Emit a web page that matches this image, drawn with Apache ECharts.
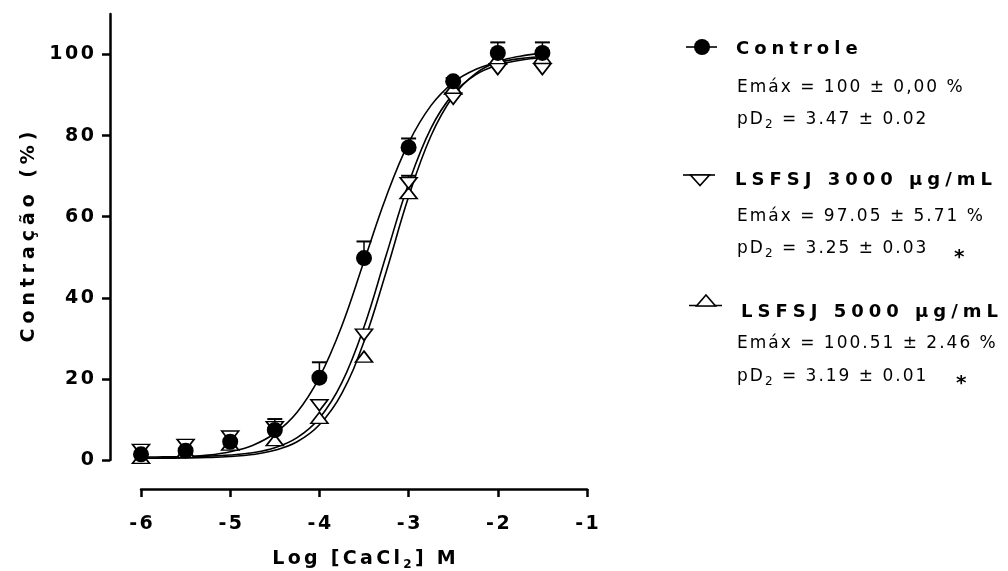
<!DOCTYPE html>
<html>
<head>
<meta charset="utf-8">
<script src="https://cdn.jsdelivr.net/npm/echarts@6/dist/echarts.min.js"></script>
<style>
html,body{margin:0;padding:0;background:#fff;}
#chart{width:1008px;height:571px;}
</style>
</head>
<body>
<div id="chart"></div>
<script>
// ---------- data ----------
const xVals = [-6, -5.5, -5, -4.5, -4, -3.5, -3, -2.5, -2, -1.5];
const ctrl = [1.4, 2.3, 4.5, 7.4, 20.3, 49.8, 77.1, 93.4, 100.4, 100.4];
const ctrlErr = [0, 0, 0, 2.7, 3.8, 4.1, 2.2, 0.8, 2.6, 2.6];
const lsf3000 = [2.5, 3.75, 5.8, 8.1, 13.5, 30.9, 68.3, 89.1, 96.4, 96.4];
const lsf3000Err = [0, 0, 0, 0, 0, 0, 1.8, 0, 0, 0];
const lsf5000 = [0.5, 2.0, 3.8, 4.9, 10.4, 25.5, 65.8, 91.6, 99.0, 99.2];

const xCurve = [-6, -5.75, -5.5, -5.25, -5, -4.75, -4.5, -4.25, -4, -3.75, -3.5, -3.25, -3, -2.75, -2.5, -2.25, -2, -1.75, -1.5];
const ctrlCurve = [0.4, 0.55, 0.8, 1.2, 2.05, 3.6, 6.6, 11.8, 20.4, 33.0, 49.0, 65.0, 78.2, 87.4, 93.1, 96.3, 98.05, 99.0, 99.5];
const curve3000 = [0.73, 0.76, 0.82, 0.95, 1.23, 1.8, 3.0, 5.5, 10.3, 19.0, 32.8, 50.6, 68.2, 81.8, 90.3, 95.0, 97.4, 98.6, 99.2];
const curve5000 = [0.42, 0.45, 0.5, 0.61, 0.85, 1.35, 2.4, 4.5, 8.7, 16.4, 29.2, 46.5, 64.9, 79.9, 89.7, 95.3, 98.2, 99.6, 100.3];

const yTicks = [0, 20, 40, 60, 80, 100];
const xTitle = ['Log [CaCl', '2', '] M'];
const yTitle = 'Contração (%)';
const legendNames = ['Controle', 'LSFSJ 3000 µg/mL', 'LSFSJ 5000 µg/mL'];
const legendEmax = ['Emáx = 100 ± 0,00 %', 'Emáx = 97.05 ± 5.71 %', 'Emáx = 100.51 ± 2.46 %'];
const legendPd2 = [' = 3.47 ± 0.02', ' = 3.25 ± 0.03', ' = 3.19 ± 0.01'];
const legendSig = ['', '*', '*'];

// ---------- helpers ----------
const FONT = 'DejaVu Sans, Liberation Sans, sans-serif';
function sp(str, key, endPad) {
  const chars = Array.from(str);
  return chars.map((c, i) => '{' + key + ((i === chars.length - 1 && !endPad) ? 'E' : '') + '|' + c + '}').join('');
}
function richPair(key, size, weight, spacing, lh) {
  const o = {};
  o[key] = {fontSize: size, fontWeight: weight, fontFamily: FONT, color: '#000', padding: [0, spacing, 0, 0], lineHeight: lh};
  o[key + 'E'] = {fontSize: size, fontWeight: weight, fontFamily: FONT, color: '#000', lineHeight: lh};
  return o;
}
const rich = Object.assign({},
  richPair('tk', 19, 'bold', 2.5, 22),
  richPair('yn', 19, 'bold', 4.9, 24),
  richPair('xn', 19, 'bold', 3.3, 24),
  richPair('hd', 18, 'bold', 5.0, 22),
  richPair('st', 17, 'normal', 2.0, 22),
  {
    nsub: {fontSize: 12, fontWeight: 'bold', fontFamily: FONT, color: '#000', lineHeight: 12, verticalAlign: 'bottom', padding: [0, 3.3, 0, 0]},
    ssub: {fontSize: 12, fontWeight: 'normal', fontFamily: FONT, color: '#000', lineHeight: 12, verticalAlign: 'bottom', padding: [0, 2, 0, 0]},
    ast: {fontSize: 20, fontWeight: 'bold', fontFamily: FONT, color: '#000', lineHeight: 22}
  }
);

const pts = (ys) => xVals.map((x, i) => [x, ys[i]]);
const curve = (ys) => xCurve.map((x, i) => [x, ys[i]]);
const errData = (ys, es) => xVals.map((x, i) => [x, ys[i], es[i]]).filter(d => d[2] > 0);

function errRender(params, api) {
  const x = api.value(0), y = api.value(1), e = api.value(2);
  const p0 = api.coord([x, y]);
  const p1 = api.coord([x, y + e]);
  const hw = 7.5;
  return {
    type: 'group',
    children: [
      {type: 'line', shape: {x1: p0[0], y1: p0[1], x2: p1[0], y2: p1[1]}, style: {stroke: '#000', lineWidth: 1.5}},
      {type: 'line', shape: {x1: p1[0] - hw, y1: p1[1], x2: p1[0] + hw, y2: p1[1]}, style: {stroke: '#000', lineWidth: 2}}
    ]
  };
}

const lineStyle = {color: '#000', width: 1.6};
const curveSeries = (d) => ({type: 'line', data: curve(d), smooth: 0.4, showSymbol: false, symbol: 'none', lineStyle: lineStyle, silent: true, z: 2});

// ---------- legend graphics ----------
const tStyle = (text, x, y) => ({type: 'text', x: x, y: y, style: {text: text, rich: rich, align: 'left', verticalAlign: 'middle'}});
const legendGraphics = [
  // Controle
  {type: 'line', shape: {x1: 686, y1: 47, x2: 717, y2: 47}, style: {stroke: '#000', lineWidth: 1.6}},
  {type: 'circle', shape: {cx: 702, cy: 47, r: 8}, style: {fill: '#000'}},
  tStyle(sp(legendNames[0], 'hd'), 736, 49),
  tStyle(sp(legendEmax[0], 'st'), 737, 88),
  tStyle(sp('pD', 'st', true) + '{ssub|2}' + sp(legendPd2[0], 'st'), 737, 120),
  // 3000
  {type: 'line', shape: {x1: 683, y1: 175, x2: 715, y2: 175}, style: {stroke: '#000', lineWidth: 1.6}},
  {type: 'polygon', shape: {points: [[690.5, 175], [709.5, 175], [700, 185.5]]}, style: {fill: '#fff', stroke: '#000', lineWidth: 1.6}},
  tStyle(sp(legendNames[1], 'hd'), 735, 180),
  tStyle(sp(legendEmax[1], 'st'), 737, 217),
  tStyle(sp('pD', 'st', true) + '{ssub|2}' + sp(legendPd2[1], 'st'), 737, 249),
  tStyle('{ast|' + legendSig[1] + '}', 954, 258),
  // 5000
  {type: 'line', shape: {x1: 689, y1: 305.5, x2: 722, y2: 305.5}, style: {stroke: '#000', lineWidth: 1.6}},
  {type: 'polygon', shape: {points: [[696.5, 306], [715.5, 306], [706, 295]]}, style: {fill: '#fff', stroke: '#000', lineWidth: 1.6}},
  tStyle(sp(legendNames[2], 'hd'), 741, 312),
  tStyle(sp(legendEmax[2], 'st'), 737, 344),
  tStyle(sp('pD', 'st', true) + '{ssub|2}' + sp(legendPd2[2], 'st'), 737, 377),
  tStyle('{ast|' + legendSig[2] + '}', 956, 384)
];

const chart = echarts.init(document.getElementById('chart'), null, {renderer: 'canvas'});
chart.setOption({
  backgroundColor: '#fff',
  animation: false,
  grid: {left: 141, right: 421, top: 14, bottom: 111, containLabel: false, outerBoundsMode: 'none'},
  xAxis: {
    type: 'value', min: -6, max: -1, interval: 1, position: 'bottom', offset: 29,
    axisLine: {show: true, onZero: false, lineStyle: {color: '#000', width: 2.5}},
    axisTick: {show: true, length: 8, inside: false, lineStyle: {color: '#000', width: 2.5}},
    axisLabel: {margin: 24, formatter: v => sp(String(v), 'tk'), rich: rich},
    splitLine: {show: false},
    name: sp(xTitle[0], 'xn', true) + '{nsub|' + xTitle[1] + '}' + sp(xTitle[2], 'xn'),
    nameLocation: 'middle', nameGap: 58,
    nameTextStyle: {rich: rich}
  },
  yAxis: {
    type: 'value', min: 0, max: 110, position: 'left', offset: 31,
    axisLine: {show: true, onZero: false, lineStyle: {color: '#000', width: 2.5}},
    axisTick: {show: true, length: 8, customValues: yTicks, lineStyle: {color: '#000', width: 2.5}},
    axisLabel: {margin: 16, customValues: yTicks, formatter: v => sp(String(v), 'tk'), rich: rich},
    splitLine: {show: false},
    name: sp(yTitle, 'yn'),
    nameLocation: 'middle', nameGap: 69, nameRotate: 90,
    nameTextStyle: {rich: rich}
  },
  series: [
    curveSeries(curve5000),
    curveSeries(curve3000),
    curveSeries(ctrlCurve),
    {type: 'custom', data: errData(lsf3000, lsf3000Err), renderItem: errRender, z: 3, silent: true},
    {type: 'custom', data: errData(ctrl, ctrlErr), renderItem: errRender, z: 3, silent: true},
    {type: 'scatter', data: pts(lsf5000), symbol: 'triangle', symbolSize: [17, 11],
     itemStyle: {color: '#fff', borderColor: '#000', borderWidth: 1.6, opacity: 1}, z: 4, silent: true},
    {type: 'scatter', data: pts(lsf3000), symbol: 'triangle', symbolSize: [17, 11], symbolRotate: 180,
     itemStyle: {color: '#fff', borderColor: '#000', borderWidth: 1.6, opacity: 1}, z: 5, silent: true},
    {type: 'scatter', data: pts(ctrl), symbol: 'circle', symbolSize: 16,
     itemStyle: {color: '#000', opacity: 1}, z: 6, silent: true}
  ],
  graphic: legendGraphics
});
</script>
</body>
</html>
